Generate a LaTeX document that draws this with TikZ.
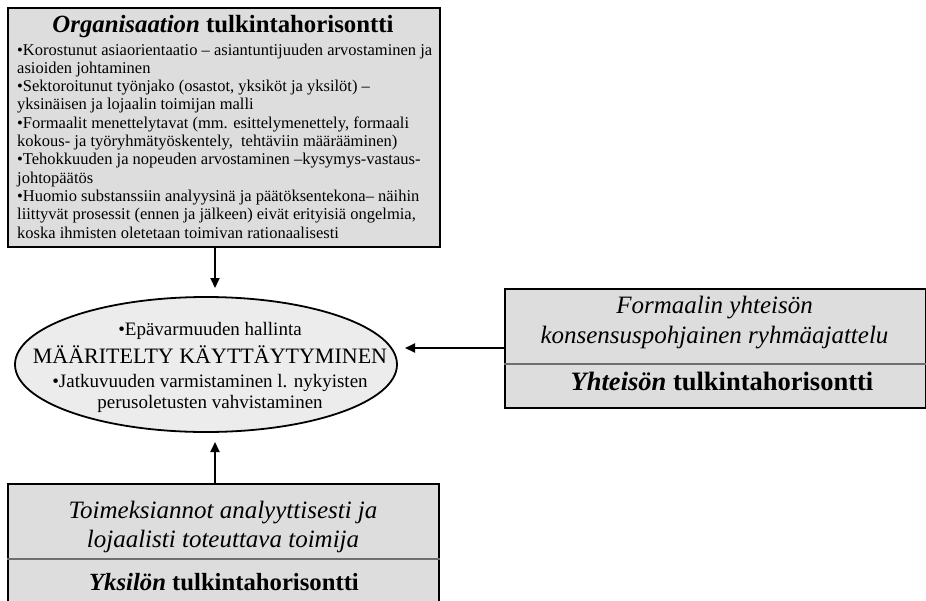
\documentclass[tikz,border=0pt]{standalone}
\usepackage{fontspec}
\setmainfont{Liberation Serif}
\usetikzlibrary{shapes.geometric,arrows.meta,calc}
\definecolor{panelgray}{RGB}{221,221,221}
\definecolor{ovalgray}{RGB}{236,236,236}
\definecolor{rulegray}{RGB}{110,110,110}

\begin{document}
\begin{tikzpicture}[x=1pt,y=-1pt,
  panel/.style={draw=black,line width=2pt,fill=panelgray,rectangle,inner sep=0pt,anchor=north west},
  divider/.style={draw=rulegray,line width=2pt},
  conn/.style={draw=black,line width=2pt,-{Triangle[length=10pt,width=9pt]}},
  txt/.style={inner sep=0pt,anchor=base},
  body/.style={font=\fontsize{16.5}{18.3}\selectfont,inner sep=0pt,anchor=base west},
  headfont/.style={font=\fontsize{24.8}{28}\selectfont\bfseries},
  bigfont/.style={font=\fontsize{25}{29}\selectfont},
  panelhead/.style={font=\fontsize{24.7}{29}\selectfont\bfseries},
  ovalfont/.style={font=\fontsize{19}{22}\selectfont},
]
\useasboundingbox (0,0) rectangle (926,600);
\fill[white] (0,0) rectangle (926,600);

% organisation panel
\node[panel,minimum width=432pt,minimum height=239pt] (org) at (7,7) {};
\node[txt,headfont] (orgtitle) at (223,32) {\textit{Organisaation} tulkintahorisontti};
\foreach \t [count=\i] in {
  {•Korostunut asiaorientaatio – asiantuntijuuden arvostaminen ja},
  {asioiden johtaminen},
  {•Sektoroitunut työnjako (osastot, yksiköt ja yksilöt) –},
  {yksinäisen ja lojaalin toimijan malli},
  {•Formaalit menettelytavat (mm. esittelymenettely, formaali},
  {kokous- ja työryhmätyöskentely,\ \ tehtäviin määrääminen)},
  {•Tehokkuuden ja nopeuden arvostaminen –kysymys-vastaus-},
  {johtopäätös},
  {•Huomio substanssiin analyysinä ja päätöksentekona– näihin},
  {liittyvät prosessit (ennen ja jälkeen) eivät erityisiä ongelmia,},
  {koska ihmisten oletetaan toimivan rationaalisesti}}
  \node[body] (orgline\i) at (17,{55+(\i-1)*18.3}) {\t};

% central oval
\node[draw=black,line width=1.8pt,fill=ovalgray,ellipse,minimum width=382pt,minimum height=135pt,inner sep=0pt] (oval) at (206,364.5) {};
\node[txt,ovalfont] (ov1) at (210,335) {•Epävarmuuden hallinta};
\node[txt,font=\fontsize{22}{26}\selectfont] (ov2) at (210,363) {MÄÄRITELTY KÄYTTÄYTYMINEN};
\node[txt,ovalfont] (ov3) at (210,387) {•Jatkuvuuden varmistaminen l. nykyisten};
\node[txt,ovalfont] (ov4) at (210,408) {perusoletusten vahvistaminen};

% community panel
\node[panel,minimum width=421pt,minimum height=119pt] (comm) at (504,288) {};
\draw[divider] (comm.west |- 0,364) -- (comm.east |- 0,364);
\node[txt,bigfont] (comm1) at (714.5,313) {\textit{Formaalin yhteisön}};
\node[txt,bigfont] (comm2) at (714.5,343) {\textit{konsensuspohjainen ryhmäajattelu}};
\node[txt,panelhead,font=\fontsize{26.5}{30}\selectfont\bfseries] (commtitle) at (722,390) {\textit{Yhteisön} tulkintahorisontti};

% individual panel
\node[panel,minimum width=431pt,minimum height=121pt] (ind) at (7,483) {};
\draw[divider] (ind.west |- 0,559) -- (ind.east |- 0,559);
\node[txt,bigfont] (ind1) at (223,518) {\textit{Toimeksiannot analyyttisesti ja}};
\node[txt,bigfont] (ind2) at (223,547) {\textit{lojaalisti toteuttava toimija}};
\node[txt,panelhead] (indtitle) at (224,590) {\textit{Yksilön} tulkintahorisontti};

% connectors into the oval
\coordinate (tipA) at (215,288);
\coordinate (tipB) at (405,348);
\coordinate (tipC) at (215,442);
\draw[conn] (org.south -| tipA) -- (tipA);
\draw[conn] (comm.west |- tipB) -- (tipB);
\draw[conn] (ind.north -| tipC) -- (tipC);
\end{tikzpicture}
\end{document}
